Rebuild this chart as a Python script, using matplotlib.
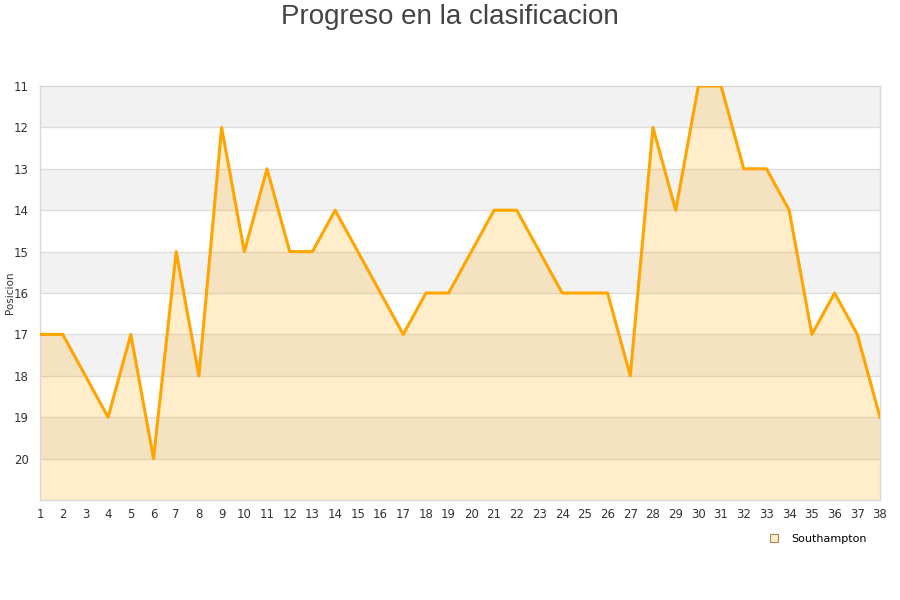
import matplotlib
matplotlib.use("Agg")
import matplotlib.pyplot as plt
from matplotlib.lines import Line2D

jornadas = list(range(1, 39))
posicion = [17, 17, 18, 19, 17, 20, 15, 18, 12, 15, 13, 15, 15, 14, 15, 16, 17, 16, 16, 15,
            14, 14, 15, 16, 16, 16, 18, 12, 14, 11, 11, 13, 13, 14, 17, 16, 17, 19]
y_ticks = list(range(11, 21))
team = "Southampton"
title = "Progreso en la clasificacion"

fig = plt.figure(figsize=(9, 6), dpi=100)
ax = fig.add_axes([40/900, 1-500/600, 840/900, 414/600])

# alternating bands
for y0 in range(11, 21, 2):
    ax.axhspan(y0, y0 + 1, color="#F2F2F2", zorder=0, lw=0)
for y in range(12, 21):
    ax.axhline(y, color="#DDDDDD", lw=1, zorder=1)

ax.fill_between(jornadas, posicion, 21, color="#FFA500", alpha=0.2, lw=0, zorder=2)
ax.plot(jornadas, posicion, color="#FFA500", lw=2.2, zorder=3)

ax.set_xlim(1, 38)
ax.set_ylim(21, 11)
ax.set_xticks(jornadas)
ax.set_yticks(y_ticks)
ax.tick_params(axis="both", length=0, labelsize=8.5, colors="#333333")
ax.tick_params(axis="x", pad=6)
ax.tick_params(axis="y", pad=8)
for s in ax.spines.values():
    s.set_color("#D8D8D8")
    s.set_linewidth(1)

ax.set_ylabel("Posicion", fontsize=7.5, color="#333333")
ax.yaxis.set_label_coords(-25/840, 0.5)

fig.text(0.5, 0.972, title, ha="center", va="center", fontsize=20,
         family="Liberation Sans", color="#444444")

handle = Line2D([], [], marker="s", linestyle="none", markersize=6,
                markerfacecolor="#FFECC8", markeredgecolor="#A08860", markeredgewidth=0.8)
fig.legend([handle], [team], loc="center", bbox_to_anchor=(815/900, 1-539/600),
           frameon=False, fontsize=8, handletextpad=0.5, borderaxespad=0)

fig.savefig("out.png", dpi=100, facecolor="white")
